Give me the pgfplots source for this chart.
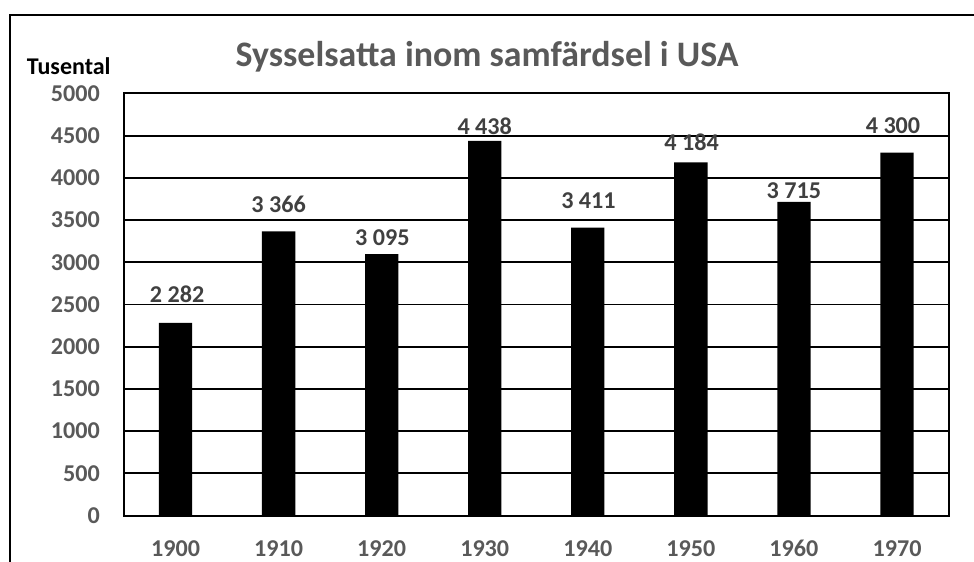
\documentclass[border=0pt]{standalone}
\usepackage{fontspec}
\setmainfont{Carlito}
\usepackage{pgfplots}
\usepackage{pgfplotstable}
\pgfplotsset{compat=1.18}
\definecolor{tickgrey}{HTML}{595959}
\definecolor{labgrey}{HTML}{404040}
\pgfplotstableread{
x y yoff xoff
0 2282 15.0 1.2
1 3366 13.5 0
2 3095 6.0 0.5
3 4438 4.5 0
4 3411 14.2 0.5
5 4184 8.2 0.5
6 3715 2.2 0
7 4300 14.2 -3.0
}\datatab
\begin{document}
\begin{tikzpicture}[x=1pt,y=1pt]
\begin{axis}[
  at={(93pt,34.1pt)}, anchor=south west,
  scale only axis, width=618.4pt, height=316.6pt,
  xmin=-0.5, xmax=7.5, ymin=0, ymax=5000,
  ytick={0,500,...,5000},
  xtick={0,...,7},
  xticklabels={1900,1910,1920,1930,1940,1950,1960,1970},
  major tick length=0pt,
  axis line style={line width=1.5pt, black},
  ymajorgrids, grid style={line width=1.4pt, black},
  /pgf/number format/assume math mode=true,
  /pgf/number format/1000 sep={},
  tick label style={font=\fontsize{18.1}{21}\selectfont\bfseries, text=tickgrey},
  yticklabel style={anchor=east, inner sep=0pt, xshift=-18pt},
  xticklabel style={anchor=north, inner sep=0pt, yshift=-18.5pt},
  visualization depends on={\thisrow{yoff} \as \myyoff},
  visualization depends on={\thisrow{xoff} \as \myxoff},
  nodes near coords={\pgfmathprintnumber[1000 sep={\ },assume math mode=true]{\pgfplotspointmeta}},
  every node near coord/.append style={font=\fontsize{18.1}{21}\selectfont\bfseries, text=labgrey, anchor=south, inner sep=0pt, yshift=\myyoff pt, xshift=\myxoff pt},
]
\addplot[ybar, bar width=25pt, fill=black, draw=none] table[x=x, y=y] {\datatab};
\end{axis}
\node[anchor=base, font=\fontsize{26.9}{32}\selectfont\bfseries, text=tickgrey] at (365.3pt,370.7pt) {Sysselsatta inom samfärdsel i USA};
\node[anchor=base west, inner sep=0pt, font=\fontsize{18}{21}\selectfont\bfseries, text=black] at (20pt,364.5pt) {Tusental};
\draw[line width=1.6pt] (7.5pt,-5pt) -- (7.5pt,409.5pt) -- (740pt,409.5pt);
\pgfresetboundingbox
\path[use as bounding box] (0,0) rectangle (730.5pt,420.75pt);
\end{tikzpicture}
\end{document}
